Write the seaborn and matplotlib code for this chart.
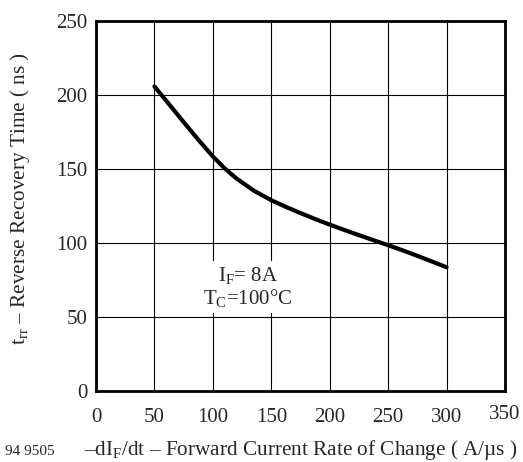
import matplotlib
matplotlib.use("Agg")
import matplotlib.pyplot as plt
import seaborn as sns
import pandas as pd

# curve
didt = [50, 62.5, 75, 87.5, 100, 110, 120, 135, 150, 162.5, 175, 187.5,
        200, 212.5, 225, 237.5, 250, 262.5, 275, 287.5, 300]
trr = [205.8, 193.8, 181.7, 169.8, 158.5, 150.5, 143.7, 135.4, 128.9, 124.4, 120.2, 116.2,
       112.4, 108.8, 105.3, 101.9, 98.5, 95, 91.3, 87.5, 83.6]
xticks = [0, 50, 100, 150, 200, 250, 300, 350]
yticks = [0, 50, 100, 150, 200, 250]

sns.set_style("white")
plt.rcParams['font.family'] = ['Liberation Serif', 'DejaVu Serif']
plt.rcParams['mathtext.fontset'] = 'custom'
plt.rcParams['mathtext.rm'] = 'Liberation Serif'
plt.rcParams['mathtext.it'] = 'Liberation Serif'

df = pd.DataFrame({"didt": didt, "trr": trr})

fig = plt.figure(figsize=(5.23, 4.62), dpi=100)
ax = fig.add_axes([0.1836, 0.1537, 0.782, 0.8008])

sns.lineplot(x="didt", y="trr", data=df, ax=ax, color="black", linewidth=3)

ax.set_xlim(0, 350)
ax.set_ylim(0, 250)
ax.set_xticks(xticks)
ax.set_yticks(yticks)
ax.grid(True, color="black", linewidth=0.8)
for s in ax.spines.values():
    s.set_color("black")
    s.set_linewidth(2)
ax.tick_params(length=0, labelsize=15, pad=12)
ax.tick_params(axis="y", pad=6)
ax.set_xticklabels([str(t) for t in xticks])
ax.get_xticklabels()[-1].set_y(0.008)

ax.set_xlabel("")
ax.set_ylabel(r"$\mathrm{t_{rr}}$ – Reverse Recovery Time ( ns )", fontsize=15.3)
ax.yaxis.set_label_coords(-0.157, 0.52)

ax.text(130, 70, r"$\mathrm{I_F}$= 8A" + "\n" + r"$\mathrm{T_C}$=100°C",
        ha="center", va="center", fontsize=15, linespacing=1.05,
        bbox=dict(facecolor="white", edgecolor="none", pad=3))

fig.text(0.01, 0.015, "94 9505", fontsize=11, ha="left", va="baseline")
fig.text(0.99, 0.015, r"–d$\mathrm{I_F}$/dt – Forward Current Rate of Change ( A/µs )",
         fontsize=15.3, ha="right", va="baseline")

fig.savefig("out.png", dpi=100)
